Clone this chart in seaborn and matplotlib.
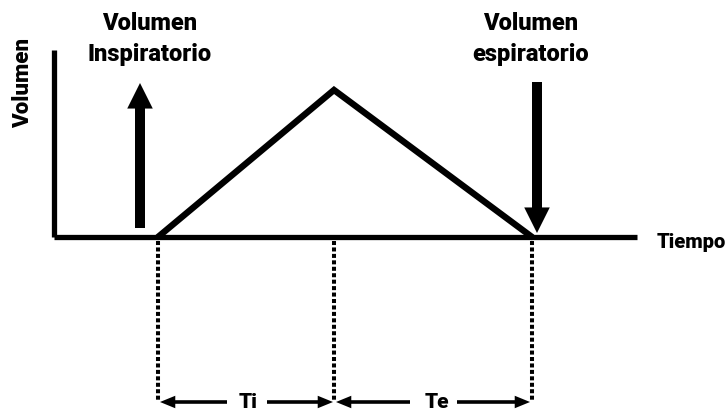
import matplotlib
matplotlib.use("Agg")
import matplotlib.pyplot as plt
import seaborn as sns
import pandas as pd

sns.set_theme(style="white")
plt.rcParams['font.family'] = ['Roboto', 'DejaVu Sans']

# Data (arbitrary units): breath cycle
ti = 2.0          # inspiratory time
te = 2.25         # expiratory time
peak_volume = 1.0
time_points = [0.0, ti, ti + te]
volume_points = [0.0, peak_volume, 0.0]
labels_insp = ["Volumen", "Inspiratorio"]
labels_esp = ["Volumen", "espiratorio"]
x_label = "Tiempo"
y_label = "Volumen"
phase_labels = ["Ti", "Te"]

df = pd.DataFrame({"t": time_points, "v": volume_points})

fig = plt.figure(figsize=(7.26, 4.12), dpi=100)
ax = fig.add_axes([0, 0, 1, 1])
ax.set_xlim(-158 / 88, (726 - 158) / 88)
ax.set_ylim((237 - 412) / 147, 237 / 147)
ax.axis("off")

fkw = dict(fontweight=900, color="black")

# axes lines
x0 = -104 / 88
ax.plot([x0, x0], [0, 187 / 147], color="black", lw=3.8, solid_capstyle="butt")
ax.plot([x0, 479 / 88], [0, 0], color="black", lw=3.8, solid_capstyle="butt")

# triangle
sns.lineplot(data=df, x="t", y="v", ax=ax, color="black", lw=4.6, sort=False)
ax.lines[-1].set_solid_joinstyle("miter")

# dotted verticals
for t in time_points:
    ax.plot([t, t], [-4 / 147, -163 / 147], color="black", lw=2.9,
            linestyle=(0, (1.0, 0.6)), dash_capstyle="butt")

# big arrows
arrow_big = dict(arrowstyle="simple,tail_width=0.36,head_width=0.92,head_length=0.92",
                 lw=0, color="black", shrinkA=0, shrinkB=0, mutation_scale=20)
ax.annotate("", xy=(-18 / 88, 154 / 147), xytext=(-18 / 88, 9 / 147),
            arrowprops=arrow_big)
ax.annotate("", xy=(time_points[2] + 5 / 88, 4 / 147),
            xytext=(time_points[2] + 5 / 88, 155 / 147), arrowprops=arrow_big)

# phase arrows
arrow_small = dict(arrowstyle="simple,tail_width=0.13,head_width=0.45,head_length=0.55",
                   lw=0, color="black", shrinkA=0, shrinkB=0, mutation_scale=20)
yb = -165 / 147
mid_ti = (time_points[0] + time_points[1]) / 2
mid_te = (time_points[1] + time_points[2]) / 2
ax.annotate("", xy=(time_points[0] + 2 / 88, yb), xytext=(mid_ti - 19 / 88, yb), arrowprops=arrow_small)
ax.annotate("", xy=(time_points[1] - 1 / 88, yb), xytext=(mid_ti + 21 / 88, yb), arrowprops=arrow_small)
ax.annotate("", xy=(time_points[1] + 2 / 88, yb), xytext=(mid_te - 23 / 88, yb), arrowprops=arrow_small)
ax.annotate("", xy=(time_points[2] - 2 / 88, yb), xytext=(mid_te + 24 / 88, yb), arrowprops=arrow_small)
ax.text(mid_ti + 2 / 88, yb, phase_labels[0], ha="center", va="center", fontsize=15, **fkw)
ax.text(mid_te + 4 / 88, yb, phase_labels[1], ha="center", va="center", fontsize=15, **fkw)

# top labels
for cx, lines in ((-8 / 88, labels_insp), (time_points[2] - 1 / 88, labels_esp)):
    ax.text(cx, (237 - 23) / 147, lines[0], ha="center", va="center", fontsize=17, **fkw)
    ax.text(cx, (237 - 55) / 147, lines[1], ha="center", va="center", fontsize=17, **fkw)

ax.text(533 / 88, -6 / 147, x_label, ha="center", va="center", fontsize=14.5, **fkw)
ax.text(-135 / 88, 154 / 147, y_label, ha="center", va="center", fontsize=16,
        rotation=90, **fkw)

fig.savefig("out.png", dpi=100)
